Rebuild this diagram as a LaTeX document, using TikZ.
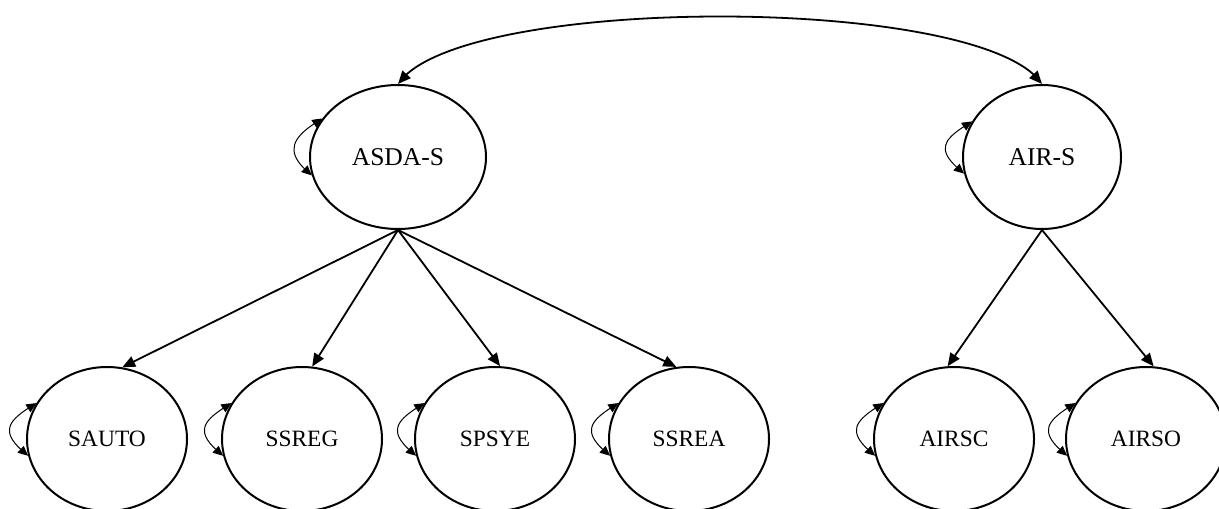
\documentclass[tikz,border=0pt]{standalone}
\usepackage{fontspec}
\setmainfont{Liberation Serif}
\usepackage{tikz}
\usetikzlibrary{arrows.meta,bending,shapes.geometric}

\begin{document}
\begin{tikzpicture}[x=0.5pt,y=0.5pt,
state/.style={draw,ellipse,line width=1pt,inner sep=0pt,minimum width=80pt,minimum height=72pt,font=\fontsize{11.7}{14}\selectfont},
topstate/.style={state,font=\fontsize{12.8}{15}\selectfont},
arrow/.style={-{Triangle[length=6.5pt,width=5.5pt]},line width=0.9pt},
twoway/.style={{Triangle[length=6.5pt,width=5.5pt]}-{Triangle[length=6.5pt,width=5.5pt]},line width=0.9pt},
selfloop/.style={{Triangle[length=5pt,width=4.5pt,bend]}-{Triangle[length=5pt,width=4.5pt,bend]},line width=0.5pt} ]
\useasboundingbox (0,0) rectangle (1219,-508);

\node[topstate,minimum width=88pt](ASDA) at (398,-157) {ASDA-S};
\node[topstate,minimum width=79pt](AIR) at (1042,-157) {AIR-S};

\node[state](SAUTO) at (107,-439) {SAUTO};
\node[state](SSREG) at (302,-439) {SSREG};
\node[state](SPSYE) at (495,-439) {SPSYE};
\node[state](SSREA) at (689,-439) {SSREA};
\node[state](AIRSC) at (954,-439) {AIRSC};
\node[state](AIRSO) at (1146,-439) {AIRSO};

% link between the two top states
\draw[twoway] (AIR.north) .. controls +(-60,90) and +(60,90) .. (ASDA.north);

% ASDA-S children
\draw[arrow] (ASDA.south) -- (SAUTO.78);
\draw[arrow] (ASDA.south) -- (SSREG.82);
\draw[arrow] (ASDA.south) -- (SPSYE.86);
\draw[arrow] (ASDA.south) -- (SSREA.100);

% AIR-S children
\draw[arrow] (AIR.south) -- (AIRSC.95);
\draw[arrow] (AIR.south) -- (AIRSO.84);

% self loops
\foreach \s in {ASDA,AIR,SAUTO,SSREG,SPSYE,SSREA,AIRSC,AIRSO}
  \draw[selfloop] (\s.153) .. controls +(-30,-18) and +(-30,24) .. (\s.192);

\end{tikzpicture}
\end{document}
